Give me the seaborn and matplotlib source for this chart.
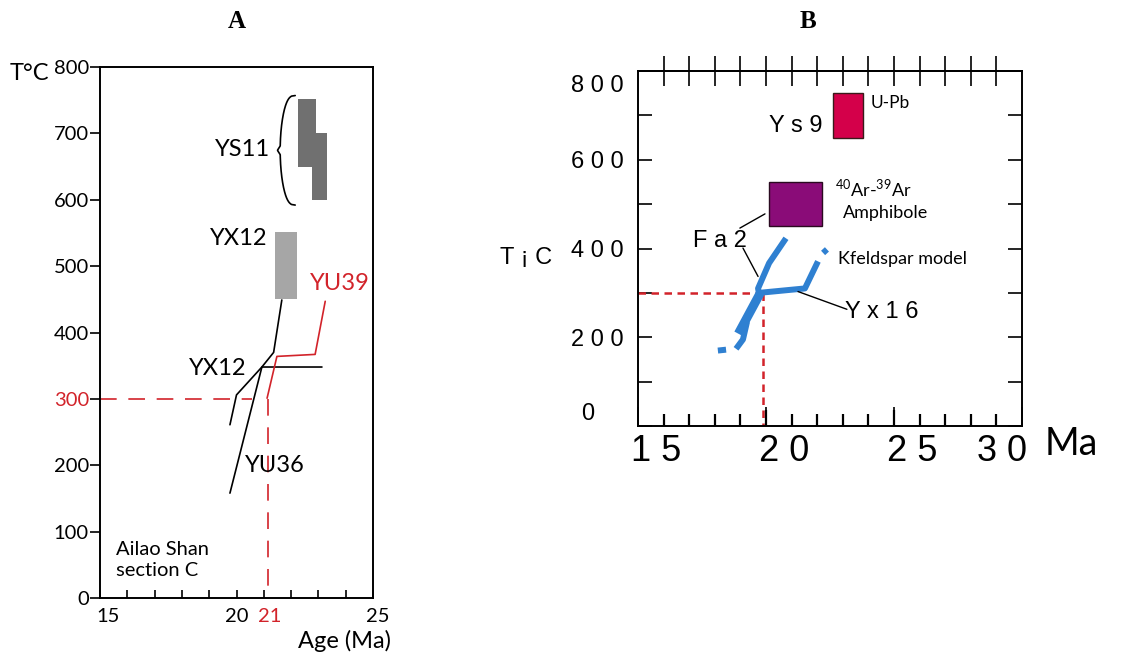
import numpy as np
import matplotlib
matplotlib.use('Agg')
import matplotlib.pyplot as plt
import matplotlib.transforms as mtransforms
import seaborn as sns

# ---- panel A: Ailao Shan section C ----
ys11_left = [22.25, 22.75]
ys11_right = [22.9, 23.3]
ys11_low = [650, 600]
ys11_high = [752, 700]
yx12_box_age = [21.4, 22.2]
yx12_box_temp = [450, 552]
yx12_age = [21.66, 21.36, 20.93, 20.0, 19.76]
yx12_temp = [449, 370, 348, 306, 261]
yu36_age = [19.76, 20.93, 23.13]
yu36_temp = [158, 348, 348]
yu39_age = [21.12, 21.48, 22.88, 23.25]
yu39_temp = [301, 364, 367, 447]
closure_temp_a = 300
closure_age_a = 21.15
xticks_a = list(range(15, 26))
xlabels_a = ['15', '', '', '', '', '20', '21', '', '', '', '25']
yticks_a = list(range(0, 801, 100))

# ---- panel B ----
ys9_age = [22.6, 23.8]
ys9_temp = [650, 750]
amph_age = [20.1, 22.2]
amph_temp = [450, 550]
fa2_age = [20.78, 20.12, 19.69, 19.72]
fa2_temp = [423, 367, 310, 300]
fa2_thick_age = [19.77, 18.92]
fa2_thick_temp = [299, 208]
fa2_hook_age = [19.26, 19.1, 18.83]
fa2_hook_temp = [235, 195, 174]
fa2_tail_age = [18.12, 18.44]
fa2_tail_temp = [170, 172]
yx16_age = [19.72, 21.52, 22.03]
yx16_temp = [300, 310, 371]
yx16_tip_age = [22.23, 22.38]
yx16_tip_temp = [390, 398]
closure_temp_b = 300
closure_age_b = 19.88
xticks_b = [15, 20, 25, 30]
xlabels_b = ['1 5', '2 0', '2 5', '3 0']
xminor_b = [v for v in range(16, 30) if v % 5]
yticks_b = list(range(0, 801, 100))
ylabels_b = ['0', '', '2 0 0', '', '4 0 0', '', '6 0 0', '', '8 0 0']

RED = '#d2232a'
BLUE = '#2f80d1'

sns.set_style('ticks')
plt.rcParams['font.family'] = ['Lato', 'DejaVu Sans']
plt.rcParams['mathtext.fontset'] = 'custom'
plt.rcParams['mathtext.rm'] = 'Lato'
for k in ['text.color', 'axes.labelcolor', 'xtick.color', 'ytick.color', 'axes.edgecolor']:
    plt.rcParams[k] = 'black'

W, H = 1137, 659
fig = plt.figure(figsize=(W / 100, H / 100), dpi=100)

def px_offset(dx, dy):
    return mtransforms.ScaledTranslation(dx / 100, -dy / 100, fig.dpi_scale_trans)

# ================= Panel A =================
axA = fig.add_axes([100 / W, 61 / H, 273 / W, 531 / H])
for lo, hi, ri, le in zip(ys11_low, ys11_high, ys11_right, ys11_left):
    axA.bar(le, hi - lo, bottom=lo, width=ri - le, align='edge', color='#707070', lw=0)
axA.bar(yx12_box_age[0], yx12_box_temp[1] - yx12_box_temp[0], bottom=yx12_box_temp[0],
        width=yx12_box_age[1] - yx12_box_age[0], align='edge', color='#a6a6a6', lw=0)

sns.lineplot(x=yx12_age, y=yx12_temp, sort=False, estimator=None, ax=axA, color='black', lw=1.2)
sns.lineplot(x=yu36_age, y=yu36_temp, sort=False, estimator=None, ax=axA, color='black', lw=1.2)
sns.lineplot(x=yu39_age, y=yu39_temp, sort=False, estimator=None, ax=axA, color=RED, lw=1.2)

axA.plot([15, 20.57], [closure_temp_a, closure_temp_a], color=RED, lw=1.2, dashes=(10, 7))
axA.plot([closure_age_a, closure_age_a], [closure_temp_a, 15], color=RED, lw=1.2, dashes=(10, 7))

# brace next to YS11
brace_top, brace_bot = max(ys11_high) + 5, min(ys11_low) - 8
t = np.linspace(0, 1, 200)
bx = 22.15 - 0.55 * np.sin(np.pi * t) ** 0.35 - 0.1 * np.clip(1 - np.abs(t - 0.5) / 0.04, 0, None)
by = brace_bot + (brace_top - brace_bot) * t
axA.plot(bx, by, color='black', lw=1.2)

axA.text(21.23, 675, 'YS11', ha='right', va='center', fontsize=17)
axA.text(21.15, 541, 'YX12', ha='right', va='center', fontsize=17)
axA.text(22.7, 474, 'YU39', ha='left', va='center', fontsize=17, color=RED)
axA.text(20.38, 346, 'YX12', ha='right', va='center', fontsize=17)
axA.text(20.3, 200, 'YU36', ha='left', va='center', fontsize=17)
axA.text(15.6, 57, 'Ailao Shan\nsection C', ha='left', va='center', fontsize=14.5, linespacing=1.25)

axA.set_xlim(15, 25)
axA.set_ylim(0, 800)
axA.set_xticks(xticks_a, xlabels_a)
axA.set_yticks(yticks_a, [str(v) for v in yticks_a])
axA.tick_params(axis='x', bottom=True, direction='in', length=6, width=1.2, pad=7, labelsize=14.5)
axA.tick_params(axis='y', left=True, direction='out', length=7, width=1.2, pad=1, labelsize=14.5)
for lab, v in zip(axA.get_xticklabels(), xticks_a):
    if v == 21:
        lab.set_color(RED)
        lab.set_transform(lab.get_transform() + px_offset(6, 0))
    elif v == 15:
        lab.set_transform(lab.get_transform() + px_offset(8, 0))
    elif v == 25:
        lab.set_transform(lab.get_transform() + px_offset(5, 0))
for lab, v in zip(axA.get_yticklabels(), yticks_a):
    if v == closure_temp_a:
        lab.set_color(RED)
for sp in axA.spines.values():
    sp.set_visible(True)
    sp.set_linewidth(1.4)
    sp.set_color('black')
axA.set_xlabel('')
axA.set_ylabel('')

fig.text(10 / W, 1 - 74 / H, 'T°C', ha='left', va='center', fontsize=17)
fig.text(298 / W, 1 - 641 / H, 'Age (Ma)', ha='left', va='center', fontsize=17)

# ================= Panel B =================
axB = fig.add_axes([638 / W, (H - 426) / H, 384 / W, 355 / H])
axB.bar(ys9_age[0], ys9_temp[1] - ys9_temp[0], bottom=ys9_temp[0], width=ys9_age[1] - ys9_age[0],
        align='edge', color='#d4004a', edgecolor='#3a1a1a', lw=1)
axB.bar(amph_age[0], amph_temp[1] - amph_temp[0], bottom=amph_temp[0], width=amph_age[1] - amph_age[0],
        align='edge', color='#8a0c78', edgecolor='#2a0a20', lw=1)

axB.plot([15, closure_age_b], [closure_temp_b, closure_temp_b], color=RED, lw=1.8, dashes=(3, 2.2))
axB.plot([closure_age_b, closure_age_b], [closure_temp_b, 0], color=RED, lw=1.8, dashes=(3, 2.2))

for ages, temps, lw in [(fa2_age, fa2_temp, 4.3), (fa2_thick_age, fa2_thick_temp, 6.5),
                        (fa2_hook_age, fa2_hook_temp, 4.3), (fa2_tail_age, fa2_tail_temp, 4.3),
                        (yx16_age, yx16_temp, 4.3), (yx16_tip_age, yx16_tip_temp, 4.3)]:
    sns.lineplot(x=ages, y=temps, sort=False, estimator=None, ax=axB, color=BLUE, lw=lw,
                 solid_capstyle='butt')

# leader lines
axB.plot([19.1, 19.69], [401, 337], color='black', lw=1)
axB.plot([18.98, 19.96], [446, 478], color='black', lw=1)
axB.plot([21.25, 23.16], [303, 263], color='black', lw=1)

fontB = ['Liberation Sans', 'DejaVu Sans']
axB.text(22.19, 677, 'Y s 9', ha='right', va='center', fontsize=17, family=fontB)
axB.text(24.1, 727, 'U-Pb', ha='left', va='center', fontsize=12.5)
axB.text(22.7, 535, r'$^{40}$Ar-$^{39}$Ar', ha='left', va='center', fontsize=13)
axB.text(23.0, 480, 'Amphibole', ha='left', va='center', fontsize=13)
axB.text(22.8, 376, 'Kfeldspar model', ha='left', va='center', fontsize=13)
axB.text(17.15, 417, 'F a 2', ha='left', va='center', fontsize=17, family=fontB)
axB.text(23.1, 258, 'Y x 1 6', ha='left', va='center', fontsize=17, family=fontB)

axB.set_xlim(15, 30)
axB.set_ylim(0, 800)
axB.set_xticks(xticks_b, xlabels_b, family=fontB)
axB.set_yticks(yticks_b, ylabels_b, family=fontB)
axB.tick_params(axis='x', which='major', bottom=True, top=False, direction='in', length=14,
                width=1.2, pad=6, labelsize=26)
axB.tick_params(axis='y', left=True, right=True, direction='in', length=10, width=1.2, pad=10,
                labelsize=17)
for lab, v in zip(axB.get_xticklabels(), xticks_b):
    dx = -20 if v == 30 else 18
    lab.set_transform(lab.get_transform() + px_offset(dx, 0))
for lab, v in zip(axB.get_yticklabels(), yticks_b):
    if v == 800:
        lab.set_transform(lab.get_transform() + px_offset(0, 12))
    elif v == 0:
        lab.set_transform(lab.get_transform() + px_offset(-30, -14))

# inward tick marks along the bottom edge, placed on the age scale
xtrans = axB.get_xaxis_transform()
axB.vlines(xminor_b, 0, 12 / 355, transform=xtrans, color='black', lw=1.6, clip_on=False, zorder=5)
axB.vlines(xticks_b[1:-1], 0, 16 / 355, transform=xtrans, color='black', lw=1.6, clip_on=False,
           zorder=5)

top = axB.secondary_xaxis('top')
top.set_xticks(list(range(16, 30)), [''] * 14)
top.tick_params(top=True, direction='inout', length=22, width=1.2)
for a in (axB, top):
    for sp in a.spines.values():
        sp.set_linewidth(1.4)
        sp.set_color('black')
for sp in axB.spines.values():
    sp.set_visible(True)
axB.set_xlabel('')
axB.set_ylabel('')

fig.text(500 / W, 1 - 258 / H, 'T ¡ C', ha='left', va='center', fontsize=17, family=fontB)
fig.text(1045 / W, 1 - 444 / H, 'Ma', ha='left', va='center', fontsize=27)

# panel letters
fig.text(237 / W, 1 - 22 / H, 'A', ha='center', va='center', fontsize=18,
         family='Liberation Serif', weight='bold')
fig.text(808 / W, 1 - 22 / H, 'B', ha='center', va='center', fontsize=18,
         family='Liberation Serif', weight='bold')

fig.savefig('out.png', dpi=100)
